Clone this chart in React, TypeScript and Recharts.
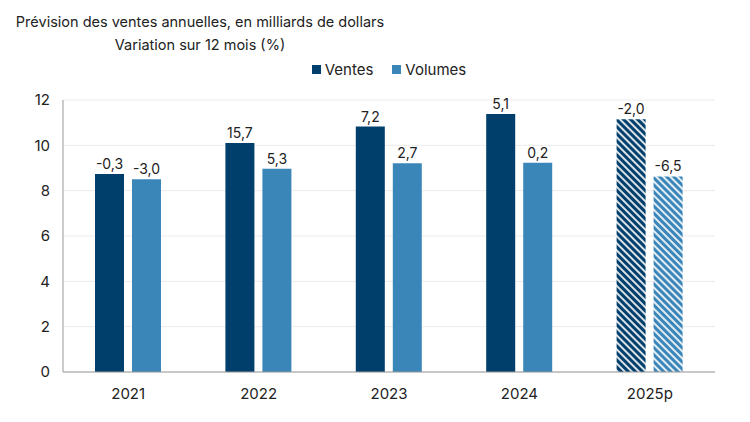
import React from 'react';
import { BarChart, Bar, XAxis, YAxis, CartesianGrid, Legend, LabelList, Cell } from 'recharts';

const categories = ['2021', '2022', '2023', '2024', '2025p'];
const ventes = [8.73, 10.1, 10.83, 11.38, 11.15];
const volumes = [8.5, 8.97, 9.21, 9.23, 8.63];
const ventesChg = ['-0,3', '15,7', '7,2', '5,1', '-2,0'];
const volumesChg = ['-3,0', '5,3', '2,7', '0,2', '-6,5'];
const forecast = [false, false, false, false, true];
const yTicks = [0, 2, 4, 6, 8, 10, 12];

const data = categories.map((c, i) => ({
  year: c,
  Ventes: ventes[i],
  Volumes: volumes[i],
  vChg: ventesChg[i],
  volChg: volumesChg[i],
  forecast: forecast[i],
}));

const C_VENTES = '#003E6B';
const C_VOLUMES = '#3B86B9';
const FONT = 'Inter, "Noto Sans", sans-serif';

const LegendContent = () => (
  <div style={{ display: 'flex', justifyContent: 'center', gap: 19, fontFamily: FONT, fontSize: 15, color: '#222' }}>
    {[['Ventes', C_VENTES], ['Volumes', C_VOLUMES]].map(([n, c]) => (
      <div key={n} style={{ display: 'flex', alignItems: 'center' }}>
        <span style={{ display: 'inline-block', width: 9, height: 9, background: c, marginRight: 4 }} />
        <span>{n}</span>
      </div>
    ))}
  </div>
);

export default function App() {
  return (
    <div style={{ position: 'fixed', left: 0, top: 0, width: 750, height: 422, background: '#fff' }}>
      <div style={{ position: 'absolute', left: 0, top: 10, width: 400, textAlign: 'center', fontFamily: FONT, fontSize: 14.5, lineHeight: '23px', color: '#222' }}>
        <div>Prévision des ventes annuelles, en milliards de dollars</div>
        <div>Variation sur 12 mois (%)</div>
      </div>
      <BarChart
        width={750}
        height={422}
        data={data}
        margin={{ top: 100, right: 35, bottom: 20, left: 0 }}
        barSize={29}
        barGap={8}
        style={{ position: 'absolute', left: 0, top: 0 }}
      >
        <defs>
          <pattern id="hatchVentes" patternUnits="userSpaceOnUse" width="5" height="5" patternTransform="rotate(45)">
            <rect width="5" height="5" fill={C_VENTES} />
            <line x1="0" y1="1" x2="5" y2="1" stroke="#fff" strokeWidth="1.7" />
          </pattern>
          <pattern id="hatchVolumes" patternUnits="userSpaceOnUse" width="5" height="5" patternTransform="rotate(45)">
            <rect width="5" height="5" fill={C_VOLUMES} />
            <line x1="0" y1="1" x2="5" y2="1" stroke="#fff" strokeWidth="1.7" />
          </pattern>
        </defs>
        <CartesianGrid vertical={false} stroke="#ebebeb" />
        <XAxis
          dataKey="year"
          height={30}
          tickLine={false}
          axisLine={{ stroke: '#999' }}
          tick={{ fill: '#222', fontSize: 15, fontFamily: FONT }}
          tickMargin={10}
        />
        <YAxis
          width={63}
          domain={[0, 12]}
          ticks={yTicks}
          tickLine={false}
          tickSize={0}
          tickMargin={13}
          axisLine={{ stroke: '#999' }}
          tick={{ fill: '#222', fontSize: 15, fontFamily: FONT }}
        />
        <Legend
          verticalAlign="middle"
          align="center"
          content={<LegendContent />}
          wrapperStyle={{ top: 60, left: 63, width: 652 }}
        />
        <Bar dataKey="Ventes" fill={C_VENTES} isAnimationActive={false}>
          {data.map((d, i) => (
            <Cell key={i} fill={d.forecast ? 'url(#hatchVentes)' : C_VENTES} />
          ))}
          <LabelList dataKey="vChg" position="top" offset={5} style={{ fill: '#222', fontSize: 14, fontFamily: FONT }} />
        </Bar>
        <Bar dataKey="Volumes" fill={C_VOLUMES} isAnimationActive={false}>
          {data.map((d, i) => (
            <Cell key={i} fill={d.forecast ? 'url(#hatchVolumes)' : C_VOLUMES} />
          ))}
          <LabelList dataKey="volChg" position="top" offset={5} style={{ fill: '#222', fontSize: 14, fontFamily: FONT }} />
        </Bar>
      </BarChart>
    </div>
  );
}
